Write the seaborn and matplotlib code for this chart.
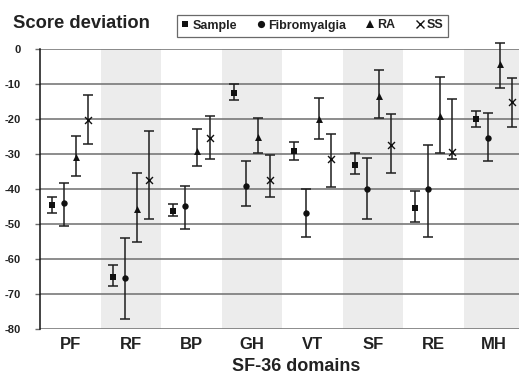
import matplotlib
matplotlib.use("Agg")
import matplotlib.pyplot as plt
import seaborn as sns
import numpy as np
import pandas as pd
from matplotlib.lines import Line2D

# ---- data ----
domains = ["PF", "RF", "BP", "GH", "VT", "SF", "RE", "MH"]
series = ["Sample", "Fibromyalgia", "RA", "SS"]

sample_mid = [-44.6, -65.2, -46.3, -12.7, -29.2, -33.2, -45.5, -20.1]
sample_lo = [-46.8, -67.7, -47.7, -14.5, -31.6, -35.7, -49.5, -22.3]
sample_hi = [-42.4, -61.8, -44.2, -9.9, -26.6, -29.8, -40.6, -17.6]

fibro_mid = [-43.9, -65.3, -44.8, -39.0, -46.8, -40.1, -40.1, -25.4]
fibro_lo = [-50.5, -77.0, -51.5, -44.8, -53.8, -48.7, -53.8, -32.1]
fibro_hi = [-38.2, -53.9, -39.0, -32.0, -39.9, -31.1, -27.3, -18.3]

ra_mid = [-30.9, -45.7, -29.0, -25.0, -20.0, -13.4, -19.1, -4.3]
ra_lo = [-36.4, -55.0, -33.4, -29.8, -25.7, -19.7, -29.7, -11.0]
ra_hi = [-24.8, -35.4, -22.8, -19.7, -14.0, -6.1, -8.1, 1.6]

ss_mid = [-20.3, -37.4, -25.4, -37.4, -31.5, -27.4, -29.4, -15.2]
ss_lo = [-27.2, -48.6, -31.4, -42.3, -39.3, -35.3, -31.5, -22.3]
ss_hi = [-13.2, -23.3, -19.1, -30.4, -24.3, -18.5, -14.2, -8.3]

yticks = [0, -10, -20, -30, -40, -50, -60, -70, -80]
title_text = "Score deviation"
xlabel_text = "SF-36 domains"

# ---- styling ----
sns.set_theme(style="white")
plt.rcParams["font.family"] = ["Liberation Sans", "DejaVu Sans"]

mids = [sample_mid, fibro_mid, ra_mid, ss_mid]
los = [sample_lo, fibro_lo, ra_lo, ss_lo]
his = [sample_hi, fibro_hi, ra_hi, ss_hi]
markers = ["s", "o", "^", "x"]
msizes = [4.3, 4.6, 5.0, 5.0]
offsets = [-0.3, -0.1, 0.1, 0.3]

rows = []
for s, m, lo, hi, off in zip(series, mids, los, his, offsets):
    for i, d in enumerate(domains):
        rows.append(dict(series=s, domain=d, pos=i + off, value=m[i], lo=lo[i], hi=hi[i]))
df = pd.DataFrame(rows)

fig = plt.figure(figsize=(5.19, 3.76), dpi=100)
ax = fig.add_axes([40 / 519, 47 / 376, 1 - 40 / 519, (329 - 49) / 376])

# alternating shading
for i in range(len(domains)):
    if i % 2 == 1:
        ax.axvspan(i - 0.5, i + 0.5, color="#ececec", lw=0, zorder=0)

# gridlines
for t in yticks:
    ax.axhline(t, color="#6e6e6e", lw=1.1, zorder=1)

ecol = "#1e1e1e"
for s, mk, ms in zip(series, markers, msizes):
    sub = df[df["series"] == s]
    yerr = np.vstack([sub["value"] - sub["lo"], sub["hi"] - sub["value"]])
    eb = ax.errorbar(sub["pos"], sub["value"], yerr=yerr, fmt="none", ecolor=ecol,
                     elinewidth=1.1, capsize=3.4, capthick=1.1, zorder=3)
    for art in eb.lines[1] + eb.lines[2]:
        art.set_clip_on(False)
    sns.scatterplot(data=sub, x="pos", y="value", marker=mk, s=ms ** 2,
                    color="#111111", edgecolor="#111111" if mk != "x" else None,
                    linewidth=1.0 if mk == "x" else 0, ax=ax, zorder=4, legend=False,
                    clip_on=False)

ax.set_xlim(-0.5, 7.41)
ax.set_ylim(-80, 0)
ax.set_xticks(range(len(domains)))
ax.set_xticklabels(domains, fontsize=12, fontweight="bold", color="#222222")
ax.set_yticks(yticks)
ax.set_yticklabels([str(t) for t in yticks], fontsize=8, fontweight="bold",
                   color="#222222")
ax.tick_params(axis="y", length=3.6, width=1, color="#6e6e6e", pad=10.5, left=True)
ax.tick_params(axis="x", length=0, pad=6)
for sp in ["top", "right", "bottom"]:
    ax.spines[sp].set_visible(False)
ax.spines["left"].set_color("#111111")
ax.spines["left"].set_linewidth(1.1)
ax.set_xlabel(xlabel_text, fontsize=13, fontweight="bold", color="#222222")
ax.xaxis.set_label_coords((296 - 40) / 479, -0.105)
ax.set_ylabel("")

fig.text(13 / 519, 1 - 24 / 376, title_text, fontsize=13.2, fontweight="bold",
         color="#222222", ha="left", va="center")

handles = [Line2D([], [], ls="none", marker=mk, ms=ms + 0.6, color="#111111",
                  markeredgewidth=1.0 if mk == "x" else 0)
           for mk, ms in zip(markers, msizes)]
leg = fig.legend(handles, series, loc="center", bbox_to_anchor=(312.5 / 519, 1 - 25.5 / 376),
                 ncol=4, frameon=True, fancybox=False, edgecolor="#444444",
                 handlelength=0.6, handletextpad=0.25, columnspacing=1.65,
                 borderpad=0.4, prop=dict(size=9, weight="bold"))
leg.get_frame().set_linewidth(0.9)
for t in leg.get_texts():
    t.set_color("#222222")

fig.savefig("out.png", dpi=100)
